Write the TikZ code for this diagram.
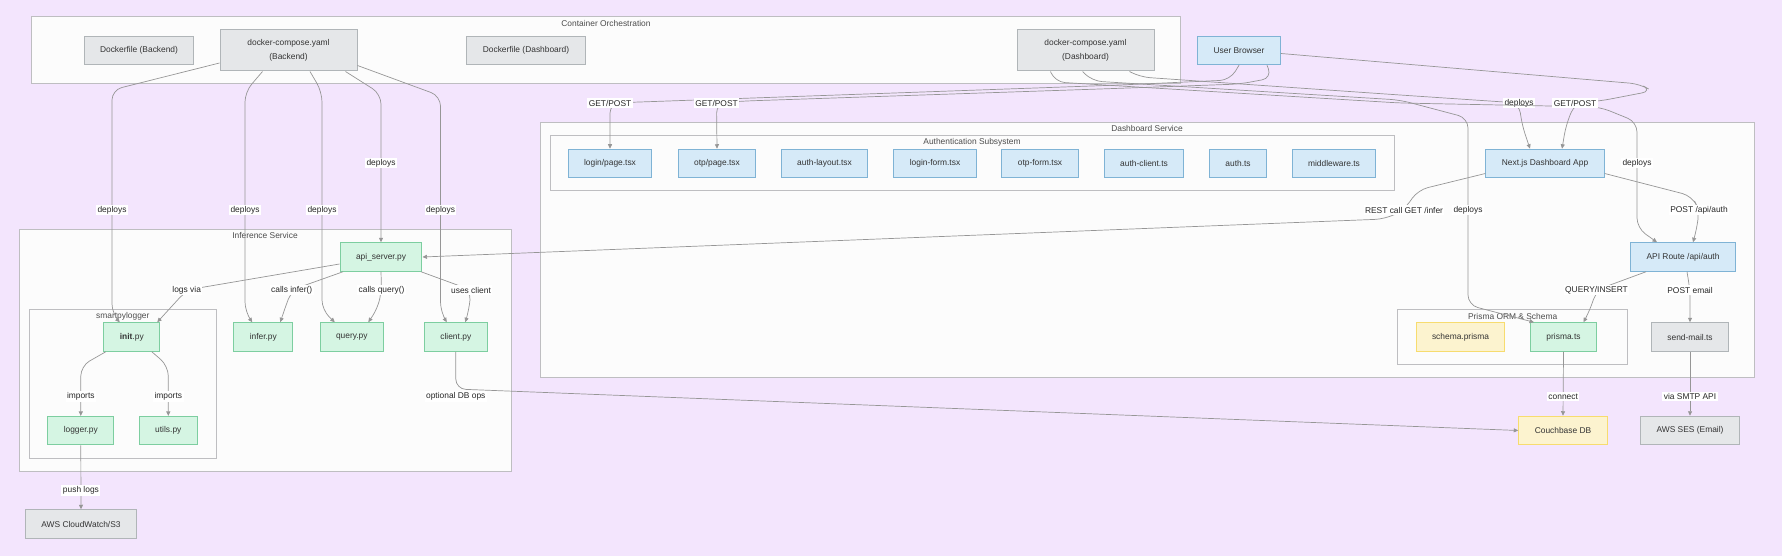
\documentclass[tikz,border=0pt]{standalone}
\usepackage{fontspec}
\setmainfont{Liberation Sans}
\usetikzlibrary{arrows.meta,positioning,calc}
\definecolor{bgpurple}{RGB}{243,229,253}
\definecolor{clusfill}{RGB}{252,252,252}
\definecolor{clusdraw}{RGB}{190,190,193}
\definecolor{opsfill}{RGB}{229,231,233}
\definecolor{opsdraw}{RGB}{176,181,184}
\definecolor{tsfill}{RGB}{214,234,248}
\definecolor{tsdraw}{RGB}{127,179,213}
\definecolor{pyfill}{RGB}{213,245,227}
\definecolor{pydraw}{RGB}{125,206,160}
\definecolor{dbfill}{RGB}{252,243,207}
\definecolor{dbdraw}{RGB}{247,220,111}
\definecolor{edgecol}{RGB}{150,150,150}
\tikzset{
  basenode/.style = {rectangle, align=center, inner xsep=16pt, inner ysep=0pt, minimum height=28.5pt, line width=1pt, font=\fontsize{8.4}{13.4}\selectfont, text=black!80},
  ts_n/.style = {basenode, draw=tsdraw, fill=tsfill},
  py_n/.style = {basenode, draw=pydraw, fill=pyfill},
  ops_n/.style = {basenode, draw=opsdraw, fill=opsfill},
  db_n/.style = {basenode, draw=dbdraw, fill=dbfill},
  cluster/.style = {draw=clusdraw, fill=clusfill, line width=1pt},
  clus_t/.style = {font=\fontsize{8.4}{10}\selectfont, text=black!70, inner sep=0pt},
  flow/.style = {draw=edgecol, line width=0.7pt, rounded corners=10pt, -{Triangle[length=4.5pt,width=4pt]}},
  flow_l/.style = {fill=white, sharp corners, inner sep=1.5pt, font=\fontsize{8.4}{10}\selectfont, text=black!85}
}
\begin{document}
\begin{tikzpicture}[x=1pt,y=-1pt]
	\fill[bgpurple] (0,0) rectangle (1782,556);

	\draw[cluster] (31.8,16.7) rectangle (1180,84);
	\node[clus_t] (t_orch) at (606,23) {Container Orchestration};
	\draw[cluster] (540,122.7) rectangle (1754,377);
	\node[clus_t] (t_dash) at (1147,128.7) {Dashboard Service};
	\draw[cluster] (550,136) rectangle (1394,190.7);
	\node[clus_t] (t_auth) at (972,142) {Authentication Subsystem};
	\draw[cluster] (1397.7,309.3) rectangle (1627.6,364.7);
	\node[clus_t] (t_prisma) at (1512.6,316) {Prisma ORM \& Schema};
	\draw[cluster] (19,229.3) rectangle (511,471);
	\node[clus_t] (t_inf) at (265,235.7) {Inference Service};
	\draw[cluster] (29.7,309.3) rectangle (216,458);
	\node[clus_t] (t_spl) at (122.8,316) {smartpylogger};

	\node[ops_n] (dfBack) at (139,50.5) {Dockerfile (Backend)};
	\node[ops_n, minimum width=137pt, minimum height=41pt] (dcBack) at (288.5,50.5) {docker-compose.yaml\\(Backend)};
	\node[ops_n] (dfDash) at (526,50.5) {Dockerfile (Dashboard)};
	\node[ops_n, minimum width=137pt, minimum height=41pt] (dcDash) at (1085.5,50.5) {docker-compose.yaml\\(Dashboard)};
	\node[ts_n] (browser) at (1239,50.5) {User Browser};

	\node[ts_n] (login) at (610,163.5) {login/page.tsx};
	\node[ts_n] (otp) at (717,163.5) {otp/page.tsx};
	\node[ts_n] (authLayout) at (824.5,163.5) {auth-layout.tsx};
	\node[ts_n] (loginForm) at (935,163.5) {login-form.tsx};
	\node[ts_n] (otpForm) at (1040,163.5) {otp-form.tsx};
	\node[ts_n] (authClient) at (1144,163.5) {auth-client.ts};
	\node[ts_n] (authTs) at (1238,163.5) {auth.ts};
	\node[ts_n] (middleware) at (1334,163.5) {middleware.ts};
	\node[ts_n] (nextApp) at (1545,163.5) {Next.js Dashboard App};
	\node[ts_n] (apiRoute) at (1683,257) {API Route /api/auth};
	\node[db_n] (schema) at (1460.5,337) {schema.prisma};
	\node[py_n] (prisma) at (1563.5,337) {prisma.ts};
	\node[ops_n] (sendMail) at (1690,337) {send-mail.ts};
	\node[db_n] (couch) at (1563,430.5) {Couchbase DB};
	\node[ops_n] (ses) at (1690,430.5) {AWS SES (Email)};

	\node[py_n] (apiServer) at (381,257) {api\_server.py};
	\node[py_n] (initPy) at (131.8,337) {\textbf{init}.py};
	\node[py_n] (inferPy) at (263.3,337) {infer.py};
	\node[py_n] (queryPy) at (351.8,337) {query.py};
	\node[py_n] (clientPy) at (455.8,337) {client.py};
	\node[py_n] (loggerPy) at (80.8,430.7) {logger.py};
	\node[py_n] (utilsPy) at (168.3,430.7) {utils.py};
	\node[ops_n] (cloudwatch) at (81,524) {AWS CloudWatch/S3};

	\draw[flow] ([yshift=-12.5pt]dcBack.west) -- (112,90) -- (112,210) node[flow_l]{deploys} -- (112,314) -- ([xshift=-12pt]initPy.north);
	\draw[flow] ([xshift=-26pt]dcBack.south) -- (245,92) -- (245,210) node[flow_l]{deploys} -- (245,312) -- ([xshift=-11pt]inferPy.north);
	\draw[flow] ([xshift=21.5pt]dcBack.south) -- (322,92) -- (322,210) node[flow_l]{deploys} -- (322,310) -- ([xshift=-17pt]queryPy.north);
	\draw[flow] ([xshift=57pt]dcBack.south) -- (381,94) -- (381,163) node[flow_l]{deploys} -- (apiServer.north);
	\draw[flow] ([yshift=-15pt]dcBack.east) -- (440.5,96) -- (440.5,210) node[flow_l]{deploys} -- (440.5,312) -- ([xshift=-9pt]clientPy.north);

	\draw[flow] (browser.south) -- (1230,80) -- (1120,85) -- (640,102) -- (610,103) node[flow_l]{GET/POST} -- (login.north);
	\draw[flow] ([xshift=28pt]browser.south) -- (1272,78) -- (1240,84) -- (1100,89) -- (745,101) -- (716.5,103) node[flow_l]{GET/POST} -- (otp.north);
	\draw[flow] ([xshift=44pt]dcDash.south) -- (1140,77) -- (1400,95) -- (1519,103) node[flow_l]{deploys} -- (1522,125) -- ([xshift=-15pt]nextApp.north);
	\draw[flow] ([xshift=-3pt]dcDash.south) -- (1092,81) -- (1400,100) -- (1468,118) -- (1468,210) node[flow_l]{deploys} -- (1468,305) -- ([xshift=4pt]prisma.north west);
	\draw[flow] ([xshift=-35pt]dcDash.south) -- (1055,82) -- (1400,103) -- (1600,107) -- (1637,122) -- (1637,163) node[flow_l]{deploys} -- (1637,228) -- ([xshift=-26pt]apiRoute.north);
	\draw[flow] ([yshift=-3pt]browser.east) -- (1640,84) -- (1652,91) -- (1600,101) -- (1575,103) node[flow_l]{GET/POST} -- (1566,125) -- ([xshift=17pt]nextApp.north);

	\draw[flow] ([yshift=-10pt]nextApp.west) -- (1418,190) -- (1404,210) node[flow_l]{REST call GET /infer} -- (1385,219) -- (apiServer.east);
	\draw[flow] ([yshift=-10pt]nextApp.east) -- (1692,196) -- (1699,210) node[flow_l]{POST /api/auth} -- (1697,228) -- ([xshift=10pt]apiRoute.north);
	\draw[flow] ([xshift=-37pt]apiRoute.south) -- (1596.5,290) node[flow_l]{QUERY/INSERT} -- (1590,310) -- ([xshift=20pt]prisma.north);
	\draw[flow] ([xshift=4pt]apiRoute.south) -- (1690,290) node[flow_l]{POST email} -- (sendMail.north);
	\draw[flow] (prisma.south) -- node[flow_l, pos=0.7]{connect} (couch.north);
	\draw[flow] (sendMail.south) -- node[flow_l, pos=0.7]{via SMTP API} (ses.north);
	\draw[flow] (clientPy.south) -- (455.8,389) node[flow_l, below=2pt]{optional DB ops} -- (couch.west);

	\draw[flow] ([yshift=-7pt]apiServer.west) -- (186.7,290) node[flow_l]{logs via} -- ([xshift=-3pt]initPy.north east);
	\draw[flow] ([xshift=-38pt]apiServer.south) -- (291.7,290) node[flow_l]{calls infer()} -- (285,308) -- ([xshift=17pt]inferPy.north);
	\draw[flow] (apiServer.south) -- (381.5,290) node[flow_l]{calls query()} -- (378,308) -- ([xshift=16.5pt]queryPy.north);
	\draw[flow] ([xshift=40pt]apiServer.south) -- (471,290) node[flow_l]{uses client} -- (469,310) -- ([xshift=9.5pt]clientPy.north);
	\draw[flow] ([xshift=-26pt]initPy.south) -- (80.8,366) -- (80.8,396.7) node[flow_l]{imports} -- (loggerPy.north);
	\draw[flow] ([xshift=20pt]initPy.south) -- (168.3,366) -- (168.3,396.7) node[flow_l]{imports} -- (utilsPy.north);
	\draw[flow] (loggerPy.south) -- node[flow_l, pos=0.7]{push logs} (cloudwatch.north);
\end{tikzpicture}
\end{document}
